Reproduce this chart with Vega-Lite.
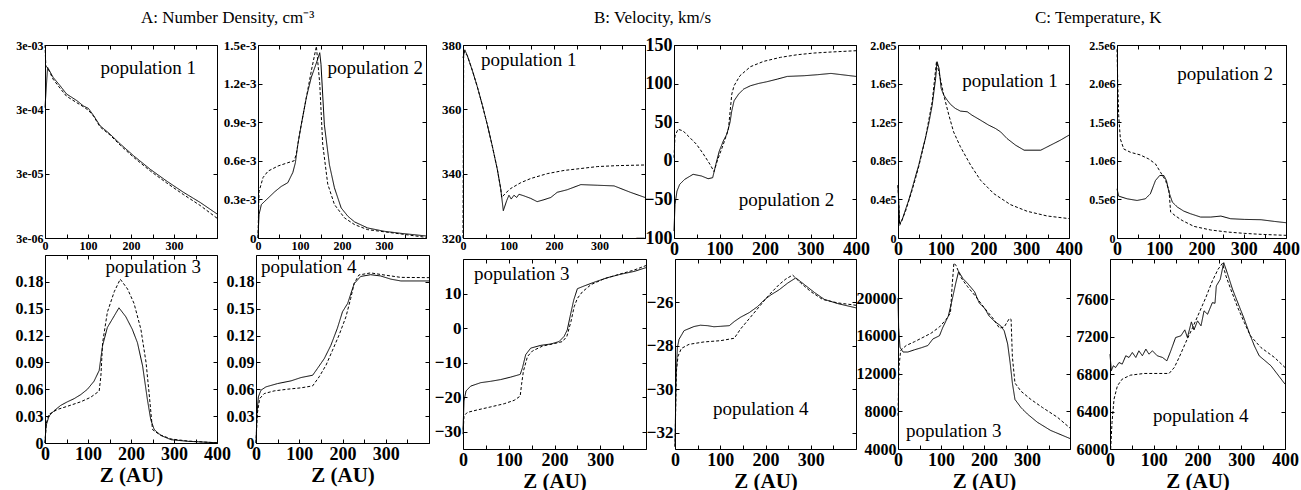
{
"$schema": "https://vega.github.io/schema/vega-lite/v6.json",
"padding": {"left": 0, "top": 8, "right": 0, "bottom": 0},
"background": "white",
"spacing": -18,
"config": {
  "view": {"stroke": "black", "strokeWidth": 1},
  "axis": {"domain": false, "grid": false, "tickColor": "black", "tickSize": -4, "tickWidth": 1, "labelPadding": 6,
           "labelFont": "Liberation Serif", "labelFontWeight": "bold", "labelColor": "black", "labelOverlap": false, "labelFlush": false, "labelBound": false,
           "titleFont": "Liberation Serif", "titleFontWeight": "bold", "titleFontSize": 21, "titleColor": "black", "titlePadding": 1},
  "title": {"font": "Liberation Serif", "fontWeight": "normal", "fontSize": 17, "color": "black", "frame": "group", "anchor": "start", "offset": 12},
  "line": {"color": "black", "strokeWidth": 1},
  "text": {"font": "Liberation Serif", "fontSize": 19, "color": "black", "baseline": "alphabetic"}
},
"datasets": {
"A1": [
{"s":"solid","z":0,"v":3.2e-4},{"s":"solid","z":6,"v":1.35e-3},{"s":"solid","z":19,"v":9.4e-4},{"s":"solid","z":35,"v":7.0e-4},{"s":"solid","z":50,"v":5.2e-4},{"s":"solid","z":74,"v":4.1e-4},{"s":"solid","z":89,"v":3.4e-4},{"s":"solid","z":101,"v":3.1e-4},{"s":"solid","z":113,"v":2.4e-4},{"s":"solid","z":128,"v":1.67e-4},{"s":"solid","z":151,"v":1.24e-4},{"s":"solid","z":175,"v":8.7e-5},{"s":"solid","z":206,"v":5.7e-5},{"s":"solid","z":245,"v":3.5e-5},{"s":"solid","z":283,"v":2.3e-5},{"s":"solid","z":322,"v":1.54e-5},{"s":"solid","z":361,"v":1.07e-5},{"s":"solid","z":400,"v":7.1e-6},
{"s":"dashed","z":0,"v":3e-3},{"s":"dashed","z":2,"v":1.4e-3},{"s":"dashed","z":6,"v":1.33e-3},{"s":"dashed","z":19,"v":8.8e-4},{"s":"dashed","z":35,"v":6.4e-4},{"s":"dashed","z":50,"v":4.8e-4},{"s":"dashed","z":74,"v":3.8e-4},{"s":"dashed","z":89,"v":3.3e-4},{"s":"dashed","z":101,"v":2.9e-4},{"s":"dashed","z":113,"v":2.35e-4},{"s":"dashed","z":128,"v":1.6e-4},{"s":"dashed","z":151,"v":1.2e-4},{"s":"dashed","z":175,"v":8.3e-5},{"s":"dashed","z":206,"v":5.4e-5},{"s":"dashed","z":245,"v":3.3e-5},{"s":"dashed","z":283,"v":2.15e-5},{"s":"dashed","z":322,"v":1.42e-5},{"s":"dashed","z":361,"v":9.6e-6},{"s":"dashed","z":400,"v":6.1e-6}
],
"A2": [
{"s":"solid","z":0,"v":0},{"s":"solid","z":2.4,"v":1.82e-4},{"s":"solid","z":8,"v":2.6e-4},{"s":"solid","z":24,"v":3.1e-4},{"s":"solid","z":40,"v":3.6e-4},{"s":"solid","z":55,"v":4.0e-4},{"s":"solid","z":71,"v":4.3e-4},{"s":"solid","z":83,"v":5.1e-4},{"s":"solid","z":89,"v":5.85e-4},{"s":"solid","z":95,"v":7.3e-4},{"s":"solid","z":103,"v":8.8e-4},{"s":"solid","z":115,"v":1.09e-3},{"s":"solid","z":127,"v":1.25e-3},{"s":"solid","z":139,"v":1.36e-3},{"s":"solid","z":147,"v":1.44e-3},{"s":"solid","z":150,"v":1.35e-3},{"s":"solid","z":158,"v":8.8e-4},{"s":"solid","z":170,"v":5.7e-4},{"s":"solid","z":182,"v":3.9e-4},{"s":"solid","z":198,"v":2.34e-4},{"s":"solid","z":214,"v":1.69e-4},{"s":"solid","z":230,"v":1.25e-4},{"s":"solid","z":261,"v":7.8e-5},{"s":"solid","z":301,"v":5.2e-5},{"s":"solid","z":341,"v":3.6e-5},{"s":"solid","z":400,"v":1.6e-5},
{"s":"dashed","z":0,"v":0},{"s":"dashed","z":2.4,"v":3.6e-4},{"s":"dashed","z":12,"v":4.7e-4},{"s":"dashed","z":24,"v":5.2e-4},{"s":"dashed","z":48,"v":5.6e-4},{"s":"dashed","z":71,"v":5.85e-4},{"s":"dashed","z":86,"v":6.0e-4},{"s":"dashed","z":91,"v":6.5e-4},{"s":"dashed","z":99,"v":8.1e-4},{"s":"dashed","z":115,"v":1.09e-3},{"s":"dashed","z":127,"v":1.3e-3},{"s":"dashed","z":139,"v":1.49e-3},{"s":"dashed","z":147,"v":1.2e-3},{"s":"dashed","z":154,"v":7.3e-4},{"s":"dashed","z":166,"v":4.2e-4},{"s":"dashed","z":182,"v":2.6e-4},{"s":"dashed","z":206,"v":1.56e-4},{"s":"dashed","z":230,"v":1.04e-4},{"s":"dashed","z":261,"v":6.5e-5},{"s":"dashed","z":341,"v":3.1e-5},{"s":"dashed","z":400,"v":5e-6}
],
"A3": [
{"s":"solid","z":0,"v":0},{"s":"solid","z":2.3,"v":0.019},{"s":"solid","z":9.3,"v":0.030},{"s":"solid","z":21,"v":0.036},{"s":"solid","z":36.5,"v":0.042},{"s":"solid","z":52,"v":0.046},{"s":"solid","z":67.6,"v":0.0495},{"s":"solid","z":83,"v":0.054},{"s":"solid","z":98.6,"v":0.060},{"s":"solid","z":114,"v":0.069},{"s":"solid","z":126,"v":0.081},{"s":"solid","z":134,"v":0.109},{"s":"solid","z":145,"v":0.129},{"s":"solid","z":161,"v":0.142},{"s":"solid","z":172,"v":0.151},{"s":"solid","z":188,"v":0.141},{"s":"solid","z":203,"v":0.127},{"s":"solid","z":215,"v":0.112},{"s":"solid","z":227,"v":0.086},{"s":"solid","z":238,"v":0.049},{"s":"solid","z":246,"v":0.026},{"s":"solid","z":254,"v":0.015},{"s":"solid","z":270,"v":0.0083},{"s":"solid","z":293,"v":0.0037},{"s":"solid","z":332,"v":0.0019},{"s":"solid","z":400,"v":0.0003},
{"s":"dashed","z":0,"v":0},{"s":"dashed","z":3,"v":0.022},{"s":"dashed","z":9,"v":0.032},{"s":"dashed","z":29,"v":0.0375},{"s":"dashed","z":52,"v":0.041},{"s":"dashed","z":83,"v":0.046},{"s":"dashed","z":106,"v":0.051},{"s":"dashed","z":126,"v":0.058},{"s":"dashed","z":130,"v":0.075},{"s":"dashed","z":134,"v":0.112},{"s":"dashed","z":145,"v":0.146},{"s":"dashed","z":161,"v":0.169},{"s":"dashed","z":175,"v":0.183},{"s":"dashed","z":192,"v":0.172},{"s":"dashed","z":207,"v":0.156},{"s":"dashed","z":223,"v":0.127},{"s":"dashed","z":235,"v":0.090},{"s":"dashed","z":242,"v":0.056},{"s":"dashed","z":250,"v":0.015},{"s":"dashed","z":266,"v":0.0094},{"s":"dashed","z":293,"v":0.0045},{"s":"dashed","z":332,"v":0.0022},{"s":"dashed","z":400,"v":0.0002}
],
"A4": [
{"s":"solid","z":0,"v":0},{"s":"solid","z":2.3,"v":0.033},{"s":"solid","z":5.4,"v":0.0515},{"s":"solid","z":11.5,"v":0.059},{"s":"solid","z":23,"v":0.0627},{"s":"solid","z":50,"v":0.0664},{"s":"solid","z":81,"v":0.0694},{"s":"solid","z":104,"v":0.0731},{"s":"solid","z":131,"v":0.0757},{"s":"solid","z":142,"v":0.0832},{"s":"solid","z":158,"v":0.0944},{"s":"solid","z":173,"v":0.109},{"s":"solid","z":188,"v":0.128},{"s":"solid","z":200,"v":0.1466},{"s":"solid","z":212,"v":0.156},{"s":"solid","z":227,"v":0.178},{"s":"solid","z":242,"v":0.186},{"s":"solid","z":265,"v":0.188},{"s":"solid","z":288,"v":0.1866},{"s":"solid","z":312,"v":0.183},{"s":"solid","z":335,"v":0.181},{"s":"solid","z":400,"v":0.181},
{"s":"dashed","z":0,"v":0},{"s":"dashed","z":3,"v":0.0328},{"s":"dashed","z":8.5,"v":0.0496},{"s":"dashed","z":19,"v":0.0552},{"s":"dashed","z":42,"v":0.0582},{"s":"dashed","z":73,"v":0.0601},{"s":"dashed","z":104,"v":0.0616},{"s":"dashed","z":131,"v":0.0638},{"s":"dashed","z":146,"v":0.0739},{"s":"dashed","z":162,"v":0.087},{"s":"dashed","z":177,"v":0.1037},{"s":"dashed","z":192,"v":0.1205},{"s":"dashed","z":208,"v":0.141},{"s":"dashed","z":219,"v":0.1616},{"s":"dashed","z":227,"v":0.1784},{"s":"dashed","z":238,"v":0.1877},{"s":"dashed","z":265,"v":0.190},{"s":"dashed","z":296,"v":0.1877},{"s":"dashed","z":335,"v":0.185},{"s":"dashed","z":400,"v":0.1847}
],
"B1": [
{"s":"solid","z":0,"v":376},{"s":"solid","z":4,"v":378.5},{"s":"solid","z":9.5,"v":376.7},{"s":"solid","z":20.5,"v":372.1},{"s":"solid","z":31.5,"v":367.0},{"s":"solid","z":42.5,"v":361.3},{"s":"solid","z":53.5,"v":355.2},{"s":"solid","z":64.5,"v":348.5},{"s":"solid","z":75.5,"v":341.3},{"s":"solid","z":83,"v":335.2},{"s":"solid","z":88.6,"v":328.5},{"s":"solid","z":96,"v":331.6},{"s":"solid","z":101,"v":333.3},{"s":"solid","z":106,"v":332.1},{"s":"solid","z":112,"v":333.3},{"s":"solid","z":118,"v":332.6},{"s":"solid","z":123,"v":333.6},{"s":"solid","z":134,"v":333.1},{"s":"solid","z":149,"v":332.3},{"s":"solid","z":163,"v":331.3},{"s":"solid","z":178,"v":331.9},{"s":"solid","z":193,"v":332.6},{"s":"solid","z":207,"v":334.2},{"s":"solid","z":229,"v":335.0},{"s":"solid","z":259,"v":336.6},{"s":"solid","z":295,"v":336.4},{"s":"solid","z":332,"v":336.2},{"s":"solid","z":368,"v":334.2},{"s":"solid","z":400,"v":332.6},
{"s":"dashed","z":0,"v":320},{"s":"dashed","z":1.5,"v":378},{"s":"dashed","z":9.5,"v":376.7},{"s":"dashed","z":20.5,"v":372.1},{"s":"dashed","z":31.5,"v":367.0},{"s":"dashed","z":42.5,"v":361.3},{"s":"dashed","z":53.5,"v":355.2},{"s":"dashed","z":64.5,"v":348.5},{"s":"dashed","z":75.5,"v":341.3},{"s":"dashed","z":83,"v":335.2},{"s":"dashed","z":85,"v":332.6},{"s":"dashed","z":94,"v":334.0},{"s":"dashed","z":105,"v":335.4},{"s":"dashed","z":127,"v":337.2},{"s":"dashed","z":149,"v":338.5},{"s":"dashed","z":185,"v":340.0},{"s":"dashed","z":222,"v":341.0},{"s":"dashed","z":259,"v":341.6},{"s":"dashed","z":295,"v":342.2},{"s":"dashed","z":339,"v":342.5},{"s":"dashed","z":400,"v":342.7}
],
"B2": [
{"s":"solid","z":0,"v":-91},{"s":"solid","z":2.2,"v":-56.5},{"s":"solid","z":6.6,"v":-39.2},{"s":"solid","z":12.5,"v":-30.5},{"s":"solid","z":23.6,"v":-24},{"s":"solid","z":42,"v":-17.5},{"s":"solid","z":60.5,"v":-19.7},{"s":"solid","z":75,"v":-23.2},{"s":"solid","z":85,"v":-21.9},{"s":"solid","z":92,"v":-4.5},{"s":"solid","z":99.6,"v":12.8},{"s":"solid","z":108.5,"v":25.8},{"s":"solid","z":116,"v":34.4},{"s":"solid","z":123,"v":49.6},{"s":"solid","z":127,"v":64.7},{"s":"solid","z":132,"v":77.7},{"s":"solid","z":142,"v":86.4},{"s":"solid","z":153,"v":92.9},{"s":"solid","z":168,"v":97.2},{"s":"solid","z":186,"v":100.2},{"s":"solid","z":204,"v":102.4},{"s":"solid","z":227,"v":105.8},{"s":"solid","z":249,"v":109.3},{"s":"solid","z":286,"v":110.2},{"s":"solid","z":315,"v":111.5},{"s":"solid","z":345,"v":113.2},{"s":"solid","z":400,"v":109.3},
{"s":"dashed","z":0,"v":4},{"s":"dashed","z":2.2,"v":32.2},{"s":"dashed","z":8.9,"v":40.9},{"s":"dashed","z":20,"v":38.7},{"s":"dashed","z":34.7,"v":30.1},{"s":"dashed","z":49.4,"v":21.4},{"s":"dashed","z":64,"v":9.3},{"s":"dashed","z":79,"v":-4.5},{"s":"dashed","z":88,"v":-14},{"s":"dashed","z":95,"v":-0.2},{"s":"dashed","z":108.5,"v":21.4},{"s":"dashed","z":119.6,"v":40.9},{"s":"dashed","z":127,"v":86.4},{"s":"dashed","z":132,"v":97.2},{"s":"dashed","z":145,"v":110.2},{"s":"dashed","z":168,"v":121.9},{"s":"dashed","z":197,"v":128.8},{"s":"dashed","z":234,"v":134.0},{"s":"dashed","z":271,"v":137.4},{"s":"dashed","z":308,"v":139.6},{"s":"dashed","z":345,"v":140.9},{"s":"dashed","z":400,"v":142.6}
],
"B3": [
{"s":"solid","z":0,"v":-29.7},{"s":"solid","z":2.2,"v":-21.1},{"s":"solid","z":6.6,"v":-18.2},{"s":"solid","z":16.8,"v":-16.8},{"s":"solid","z":38.7,"v":-15.8},{"s":"solid","z":60.6,"v":-15.4},{"s":"solid","z":82.5,"v":-14.9},{"s":"solid","z":104,"v":-14.2},{"s":"solid","z":125,"v":-13.4},{"s":"solid","z":130,"v":-11.5},{"s":"solid","z":137,"v":-7.7},{"s":"solid","z":148,"v":-5.8},{"s":"solid","z":170,"v":-5.0},{"s":"solid","z":192,"v":-4.6},{"s":"solid","z":210,"v":-3.9},{"s":"solid","z":221,"v":-2.4},{"s":"solid","z":228,"v":-0.5},{"s":"solid","z":234,"v":3.3},{"s":"solid","z":242,"v":8.1},{"s":"solid","z":250,"v":11.4},{"s":"solid","z":265,"v":12.2},{"s":"solid","z":287,"v":13.3},{"s":"solid","z":316,"v":14.6},{"s":"solid","z":345,"v":15.6},{"s":"solid","z":374,"v":16.4},{"s":"solid","z":400,"v":17.5},
{"s":"dashed","z":0,"v":-30.7},{"s":"dashed","z":2.2,"v":-25.4},{"s":"dashed","z":9.5,"v":-24.4},{"s":"dashed","z":31,"v":-23.7},{"s":"dashed","z":61,"v":-22.8},{"s":"dashed","z":90,"v":-21.9},{"s":"dashed","z":112,"v":-20.9},{"s":"dashed","z":125,"v":-19.7},{"s":"dashed","z":128,"v":-16.3},{"s":"dashed","z":132,"v":-12.5},{"s":"dashed","z":141,"v":-8.2},{"s":"dashed","z":152,"v":-6.6},{"s":"dashed","z":174,"v":-5.2},{"s":"dashed","z":199,"v":-4.5},{"s":"dashed","z":217.5,"v":-3.9},{"s":"dashed","z":227,"v":-2.4},{"s":"dashed","z":236,"v":1.9},{"s":"dashed","z":243,"v":6.2},{"s":"dashed","z":250,"v":8.6},{"s":"dashed","z":261,"v":10.5},{"s":"dashed","z":280,"v":12.6},{"s":"dashed","z":309,"v":14.3},{"s":"dashed","z":345,"v":15.7},{"s":"dashed","z":374,"v":16.8},{"s":"dashed","z":400,"v":18.1}
],
"B4": [
{"s":"solid","z":0,"v":-32.64},{"s":"solid","z":2.2,"v":-29.66},{"s":"solid","z":5.2,"v":-28.09},{"s":"solid","z":8.9,"v":-27.70},{"s":"solid","z":20,"v":-27.30},{"s":"solid","z":42,"v":-27.11},{"s":"solid","z":56,"v":-27.05},{"s":"solid","z":71.6,"v":-27.07},{"s":"solid","z":86,"v":-27.12},{"s":"solid","z":101,"v":-27.10},{"s":"solid","z":120,"v":-27.07},{"s":"solid","z":131,"v":-26.88},{"s":"solid","z":145,"v":-26.68},{"s":"solid","z":164,"v":-26.47},{"s":"solid","z":182,"v":-26.20},{"s":"solid","z":197,"v":-25.89},{"s":"solid","z":212,"v":-25.65},{"s":"solid","z":230,"v":-25.42},{"s":"solid","z":249,"v":-25.11},{"s":"solid","z":267,"v":-24.87},{"s":"solid","z":286,"v":-25.18},{"s":"solid","z":308,"v":-25.54},{"s":"solid","z":330,"v":-25.86},{"s":"solid","z":359,"v":-26.05},{"s":"solid","z":400,"v":-26.25},
{"s":"dashed","z":0,"v":-32.64},{"s":"dashed","z":3,"v":-29.19},{"s":"dashed","z":6.6,"v":-28.48},{"s":"dashed","z":14,"v":-28.12},{"s":"dashed","z":31,"v":-27.93},{"s":"dashed","z":64,"v":-27.82},{"s":"dashed","z":101,"v":-27.76},{"s":"dashed","z":131,"v":-27.65},{"s":"dashed","z":145,"v":-27.22},{"s":"dashed","z":164,"v":-26.75},{"s":"dashed","z":186,"v":-26.20},{"s":"dashed","z":208,"v":-25.65},{"s":"dashed","z":230,"v":-25.18},{"s":"dashed","z":245,"v":-24.92},{"s":"dashed","z":260,"v":-24.74},{"s":"dashed","z":278,"v":-25.11},{"s":"dashed","z":300,"v":-25.50},{"s":"dashed","z":326,"v":-25.86},{"s":"dashed","z":359,"v":-26.02},{"s":"dashed","z":400,"v":-26.13}
],
"C1": [
{"s":"solid","z":0,"v":54700},{"s":"solid","z":3.9,"v":14900},{"s":"solid","z":9.4,"v":18300},{"s":"solid","z":17,"v":28700},{"s":"solid","z":25,"v":39100},{"s":"solid","z":33,"v":51200},{"s":"solid","z":40.6,"v":63300},{"s":"solid","z":48.4,"v":75400},{"s":"solid","z":56,"v":89300},{"s":"solid","z":64,"v":103100},{"s":"solid","z":72,"v":118700},{"s":"solid","z":80,"v":137700},{"s":"solid","z":88,"v":165400},{"s":"solid","z":91.4,"v":182700},{"s":"solid","z":96,"v":175800},{"s":"solid","z":101,"v":155000},{"s":"solid","z":107,"v":148100},{"s":"solid","z":115,"v":142900},{"s":"solid","z":123,"v":138400},{"s":"solid","z":134,"v":134300},{"s":"solid","z":146,"v":131500},{"s":"solid","z":162,"v":130800},{"s":"solid","z":173,"v":127300},{"s":"solid","z":193,"v":122100},{"s":"solid","z":212,"v":117000},{"s":"solid","z":228,"v":113500},{"s":"solid","z":240,"v":110000},{"s":"solid","z":255,"v":103100},{"s":"solid","z":275,"v":96200},{"s":"solid","z":295,"v":91000},{"s":"solid","z":334,"v":91000},{"s":"solid","z":357,"v":96200},{"s":"solid","z":380,"v":101400},{"s":"solid","z":400,"v":106600},
{"s":"dashed","z":0,"v":54700},{"s":"dashed","z":3.9,"v":13100},{"s":"dashed","z":17,"v":27000},{"s":"dashed","z":33,"v":49500},{"s":"dashed","z":48.4,"v":73700},{"s":"dashed","z":64,"v":103100},{"s":"dashed","z":80,"v":141200},{"s":"dashed","z":90,"v":182700},{"s":"dashed","z":99,"v":165400},{"s":"dashed","z":107,"v":148100},{"s":"dashed","z":119,"v":127300},{"s":"dashed","z":130,"v":110000},{"s":"dashed","z":146,"v":94500},{"s":"dashed","z":170,"v":75400},{"s":"dashed","z":193,"v":59900},{"s":"dashed","z":224,"v":46000},{"s":"dashed","z":263,"v":34600},{"s":"dashed","z":302,"v":27700},{"s":"dashed","z":349,"v":22800},{"s":"dashed","z":400,"v":20100}
],
"C2": [
{"s":"solid","z":0,"v":636900},{"s":"solid","z":4,"v":542200},{"s":"solid","z":24,"v":507700},{"s":"solid","z":47.5,"v":486200},{"s":"solid","z":67,"v":507700},{"s":"solid","z":79,"v":572300},{"s":"solid","z":91,"v":744400},{"s":"solid","z":101,"v":809000},{"s":"solid","z":111,"v":809000},{"s":"solid","z":117,"v":744400},{"s":"solid","z":123,"v":593800},{"s":"solid","z":131,"v":464700},{"s":"solid","z":143,"v":400200},{"s":"solid","z":158,"v":348500},{"s":"solid","z":174,"v":314100},{"s":"solid","z":198,"v":271100},{"s":"solid","z":222,"v":271100},{"s":"solid","z":246,"v":284000},{"s":"solid","z":269,"v":249600},{"s":"solid","z":301,"v":241000},{"s":"solid","z":341,"v":236700},{"s":"solid","z":372,"v":215200},{"s":"solid","z":400,"v":197900},
{"s":"dashed","z":0,"v":2444000},{"s":"dashed","z":1.6,"v":2057000},{"s":"dashed","z":4,"v":1583000},{"s":"dashed","z":8,"v":1282000},{"s":"dashed","z":16,"v":1153000},{"s":"dashed","z":32,"v":1110000},{"s":"dashed","z":55,"v":1076000},{"s":"dashed","z":75,"v":1024000},{"s":"dashed","z":91,"v":960000},{"s":"dashed","z":103,"v":852000},{"s":"dashed","z":115,"v":744400},{"s":"dashed","z":123,"v":615400},{"s":"dashed","z":127,"v":335700},{"s":"dashed","z":139,"v":284000},{"s":"dashed","z":154,"v":228000},{"s":"dashed","z":182,"v":150600},{"s":"dashed","z":222,"v":103300},{"s":"dashed","z":261,"v":77500},{"s":"dashed","z":301,"v":60200},{"s":"dashed","z":341,"v":47300},{"s":"dashed","z":400,"v":34400}
],
"C3": [
{"s":"solid","z":0,"v":20000},{"s":"solid","z":1.5,"v":16880},{"s":"solid","z":4.6,"v":14800},{"s":"solid","z":11.6,"v":14290},{"s":"solid","z":23,"v":14290},{"s":"solid","z":38.6,"v":14530},{"s":"solid","z":54,"v":14740},{"s":"solid","z":69.5,"v":14980},{"s":"solid","z":81,"v":15670},{"s":"solid","z":96.5,"v":16020},{"s":"solid","z":104,"v":16880},{"s":"solid","z":117,"v":18100},{"s":"solid","z":125,"v":19650},{"s":"solid","z":135,"v":21730},{"s":"solid","z":141,"v":22840},{"s":"solid","z":151,"v":22080},{"s":"solid","z":162,"v":21560},{"s":"solid","z":178,"v":20690},{"s":"solid","z":189,"v":19480},{"s":"solid","z":201,"v":18960},{"s":"solid","z":212,"v":18100},{"s":"solid","z":224,"v":17570},{"s":"solid","z":239,"v":17060},{"s":"solid","z":247,"v":16540},{"s":"solid","z":255,"v":15150},{"s":"solid","z":261,"v":13070},{"s":"solid","z":266,"v":10990},{"s":"solid","z":272,"v":9260},{"s":"solid","z":286,"v":8400},{"s":"solid","z":301,"v":7710},{"s":"solid","z":324,"v":6840},{"s":"solid","z":355,"v":5970},{"s":"solid","z":400,"v":5110},
{"s":"dashed","z":0,"v":7530},{"s":"dashed","z":2.3,"v":12730},{"s":"dashed","z":6.2,"v":14460},{"s":"dashed","z":19,"v":14980},{"s":"dashed","z":38.6,"v":15390},{"s":"dashed","z":58,"v":15840},{"s":"dashed","z":77,"v":16290},{"s":"dashed","z":96.5,"v":16950},{"s":"dashed","z":112,"v":17750},{"s":"dashed","z":122,"v":18440},{"s":"dashed","z":126,"v":21390},{"s":"dashed","z":130,"v":23740},{"s":"dashed","z":135,"v":23460},{"s":"dashed","z":147,"v":22150},{"s":"dashed","z":162,"v":21210},{"s":"dashed","z":181,"v":20170},{"s":"dashed","z":201,"v":18960},{"s":"dashed","z":220,"v":17920},{"s":"dashed","z":236,"v":16820},{"s":"dashed","z":247,"v":16950},{"s":"dashed","z":259,"v":17850},{"s":"dashed","z":263,"v":17750},{"s":"dashed","z":266,"v":13770},{"s":"dashed","z":272,"v":11000},{"s":"dashed","z":286,"v":10130},{"s":"dashed","z":309,"v":9260},{"s":"dashed","z":336,"v":8400},{"s":"dashed","z":371,"v":7360},{"s":"dashed","z":400,"v":6220}
],
"C4": [
{"s":"solid","z":0,"v":7013},{"s":"solid","z":3,"v":6836},{"s":"solid","z":7.6,"v":6889},{"s":"solid","z":13,"v":6871},{"s":"solid","z":20.6,"v":6924},{"s":"solid","z":28,"v":6907},{"s":"solid","z":36,"v":6996},{"s":"solid","z":43.5,"v":6978},{"s":"solid","z":51,"v":7031},{"s":"solid","z":59,"v":6978},{"s":"solid","z":66,"v":7049},{"s":"solid","z":74,"v":6996},{"s":"solid","z":82,"v":7067},{"s":"solid","z":89,"v":7013},{"s":"solid","z":97,"v":7049},{"s":"solid","z":108,"v":6996},{"s":"solid","z":120,"v":6978},{"s":"solid","z":130,"v":6942},{"s":"solid","z":139,"v":7049},{"s":"solid","z":150,"v":7191},{"s":"solid","z":162,"v":7209},{"s":"solid","z":171,"v":7273},{"s":"solid","z":177,"v":7191},{"s":"solid","z":186,"v":7358},{"s":"solid","z":192,"v":7273},{"s":"solid","z":200,"v":7369},{"s":"solid","z":208,"v":7316},{"s":"solid","z":215,"v":7476},{"s":"solid","z":223,"v":7440},{"s":"solid","z":234,"v":7564},{"s":"solid","z":240,"v":7557},{"s":"solid","z":243,"v":7742},{"s":"solid","z":252,"v":7813},{"s":"solid","z":260,"v":7991},{"s":"solid","z":269,"v":7867},{"s":"solid","z":280,"v":7707},{"s":"solid","z":295,"v":7529},{"s":"solid","z":307,"v":7387},{"s":"solid","z":318,"v":7244},{"s":"solid","z":330,"v":7102},{"s":"solid","z":341,"v":6996},{"s":"solid","z":368,"v":6889},{"s":"solid","z":400,"v":6693},
{"s":"dashed","z":1.5,"v":6000},{"s":"dashed","z":4.6,"v":6284},{"s":"dashed","z":9.2,"v":6533},{"s":"dashed","z":17,"v":6676},{"s":"dashed","z":28,"v":6747},{"s":"dashed","z":47,"v":6789},{"s":"dashed","z":78,"v":6807},{"s":"dashed","z":108,"v":6807},{"s":"dashed","z":135,"v":6807},{"s":"dashed","z":147,"v":6871},{"s":"dashed","z":158,"v":6978},{"s":"dashed","z":173,"v":7138},{"s":"dashed","z":189,"v":7298},{"s":"dashed","z":204,"v":7458},{"s":"dashed","z":219,"v":7618},{"s":"dashed","z":234,"v":7796},{"s":"dashed","z":247,"v":7920},{"s":"dashed","z":257,"v":7984},{"s":"dashed","z":265,"v":7849},{"s":"dashed","z":276,"v":7707},{"s":"dashed","z":292,"v":7511},{"s":"dashed","z":307,"v":7351},{"s":"dashed","z":321,"v":7209},{"s":"dashed","z":345,"v":7084},{"s":"dashed","z":376,"v":6978},{"s":"dashed","z":400,"v":6871}
]
},
"hconcat": [
{
 "title": {"text": "A: Number Density, cm⁻³", "dx": 96, "offset": 12},
 "spacing": 2,
 "vconcat": [
  {"bounds": "flush", "spacing": 41, "hconcat": [
   {"width": 172, "height": 193, "data": {"name": "A1"}, "resolve": {"axis": {"x": "independent", "y": "independent"}}, "layer": [
    {"mark": "line", "encoding": {
     "x": {"field": "z", "type": "quantitative", "scale": {"domain": [0, 400], "nice": false}, "axis": {"values": [0, 50, 100, 150, 200, 250, 300, 350, 400], "tickCount": 20, "labelExpr": "datum.value % 100 == 0 && datum.value < 400 ? datum.label : ''", "labelFontSize": 12, "labelOverlap": false, "title": null}},
     "y": {"field": "v", "type": "quantitative", "scale": {"type": "log", "domain": [3e-6, 3e-3], "nice": false}, "axis": {"values": [3e-6, 3e-5, 3e-4, 3e-3], "tickCount": 20, "labelExpr": "replace(format(datum.value, '.0e'), 'e-', 'e-0')", "labelFontSize": 12, "labelOverlap": false, "minExtent": 44, "title": null}},
     "strokeDash": {"field": "s", "type": "nominal", "scale": {"domain": ["solid", "dashed"], "range": [[1, 0], [3, 2]]}, "legend": null}}},
    {"data": {"values": [{}]}, "mark": {"type": "text", "align": "right"}, "encoding": {
     "x": {"datum": 351, "axis": {"orient": "top", "values": [0, 50, 100, 150, 200, 250, 300, 350, 400], "tickCount": 20, "labels": false, "title": null}},
     "y": {"datum": 0.00106, "axis": {"orient": "right", "values": [3e-6, 3e-5, 3e-4, 3e-3], "tickCount": 20, "labels": false, "title": null}},
     "text": {"value": "population 1"}}}
   ]},
   {"width": 168, "height": 193, "data": {"name": "A2"}, "resolve": {"axis": {"x": "independent", "y": "independent"}}, "layer": [
    {"mark": "line", "encoding": {
     "x": {"field": "z", "type": "quantitative", "scale": {"domain": [0, 400], "nice": false}, "axis": {"values": [0, 50, 100, 150, 200, 250, 300, 350, 400], "tickCount": 20, "labelExpr": "datum.value % 100 == 0 && datum.value < 400 ? datum.label : ''", "labelFontSize": 12, "labelOverlap": false, "title": null}},
     "y": {"field": "v", "type": "quantitative", "scale": {"domain": [0, 0.0015], "nice": false}, "axis": {"values": [0, 0.0003, 0.0006, 0.0009, 0.0012, 0.0015], "tickCount": 20, "labelExpr": "datum.value == 0 ? '0' : format(datum.value * 1000, '.1f') + 'e-3'", "labelFontSize": 13, "labelOverlap": false, "title": null}},
     "strokeDash": {"field": "s", "type": "nominal", "scale": {"domain": ["solid", "dashed"], "range": [[1, 0], [3, 2]]}, "legend": null}}},
    {"data": {"values": [{}]}, "mark": {"type": "text", "align": "right"}, "encoding": {
     "x": {"datum": 393, "axis": {"orient": "top", "values": [0, 50, 100, 150, 200, 250, 300, 350, 400], "tickCount": 20, "labels": false, "title": null}},
     "y": {"datum": 0.001275, "axis": {"orient": "right", "values": [0, 0.0003, 0.0006, 0.0009, 0.0012, 0.0015], "tickCount": 20, "labels": false, "title": null}},
     "text": {"value": "population 2"}}}
   ]}
  ]},
  {"bounds": "flush", "spacing": 39, "hconcat": [
   {"width": 172, "height": 188, "data": {"name": "A3"}, "resolve": {"axis": {"x": "independent", "y": "independent"}}, "layer": [
    {"mark": "line", "encoding": {
     "x": {"field": "z", "type": "quantitative", "scale": {"domain": [0, 400], "nice": false}, "axis": {"values": [0, 50, 100, 150, 200, 250, 300, 350, 400], "tickCount": 20, "labelExpr": "datum.value % 100 == 0 ? datum.label : ''", "labelFontSize": 18, "labelOverlap": false, "title": "Z (AU)"}},
     "y": {"field": "v", "type": "quantitative", "scale": {"domain": [0, 0.21], "nice": false}, "axis": {"values": [0, 0.03, 0.06, 0.09, 0.12, 0.15, 0.18], "tickCount": 20, "labelExpr": "datum.value == 0 ? '0' : format(datum.value, '.2f')", "labelFontSize": 16, "labelOverlap": false, "minExtent": 44, "title": null}},
     "strokeDash": {"field": "s", "type": "nominal", "scale": {"domain": ["solid", "dashed"], "range": [[1, 0], [3, 2]]}, "legend": null}}},
    {"data": {"values": [{}]}, "mark": {"type": "text", "align": "right"}, "encoding": {
     "x": {"datum": 363, "axis": {"orient": "top", "values": [0, 50, 100, 150, 200, 250, 300, 350, 400], "tickCount": 20, "labels": false, "title": null}},
     "y": {"datum": 0.19, "axis": {"orient": "right", "values": [0, 0.03, 0.06, 0.09, 0.12, 0.15, 0.18], "tickCount": 20, "labels": false, "title": null}},
     "text": {"value": "population 3"}}}
   ]},
   {"width": 173, "height": 188, "data": {"name": "A4"}, "resolve": {"axis": {"x": "independent", "y": "independent"}}, "layer": [
    {"mark": "line", "encoding": {
     "x": {"field": "z", "type": "quantitative", "scale": {"domain": [0, 400], "nice": false}, "axis": {"values": [0, 50, 100, 150, 200, 250, 300, 350, 400], "tickCount": 20, "labelExpr": "datum.value % 100 == 0 && datum.value < 400 ? datum.label : ''", "labelFontSize": 18, "labelOverlap": false, "title": "Z (AU)"}},
     "y": {"field": "v", "type": "quantitative", "scale": {"domain": [0, 0.21], "nice": false}, "axis": {"values": [0, 0.03, 0.06, 0.09, 0.12, 0.15, 0.18], "tickCount": 20, "labelExpr": "datum.value == 0 ? '0' : format(datum.value, '.2f')", "labelFontSize": 16, "labelOverlap": false, "title": null}},
     "strokeDash": {"field": "s", "type": "nominal", "scale": {"domain": ["solid", "dashed"], "range": [[1, 0], [7, 4]]}, "legend": null}}},
    {"data": {"values": [{}]}, "mark": {"type": "text", "align": "left"}, "encoding": {
     "x": {"datum": 11.6, "axis": {"orient": "top", "values": [0, 50, 100, 150, 200, 250, 300, 350, 400], "tickCount": 20, "labels": false, "title": null}},
     "y": {"datum": 0.19, "axis": {"orient": "right", "values": [0, 0.03, 0.06, 0.09, 0.12, 0.15, 0.18], "tickCount": 20, "labels": false, "title": null}},
     "text": {"value": "population 4"}}}
   ]}
  ]}
 ]
},
{
 "title": {"text": "B: Velocity, km/s", "dx": 131, "offset": 9},
 "spacing": -7,
 "vconcat": [
  {"bounds": "flush", "spacing": 29, "hconcat": [
   {"width": 182, "height": 193, "data": {"name": "B1"}, "resolve": {"axis": {"x": "independent", "y": "independent"}}, "layer": [
    {"mark": "line", "encoding": {
     "x": {"field": "z", "type": "quantitative", "scale": {"domain": [0, 400], "nice": false}, "axis": {"values": [0, 50, 100, 150, 200, 250, 300, 350, 400], "tickCount": 20, "labelExpr": "datum.value % 100 == 0 && datum.value < 400 ? datum.label : ''", "labelFontSize": 12, "labelOverlap": false, "title": null}},
     "y": {"field": "v", "type": "quantitative", "scale": {"domain": [320, 380], "nice": false}, "axis": {"values": [320, 340, 360, 380], "tickCount": 20, "format": "d", "labelFontSize": 13, "labelOverlap": false, "minExtent": 48, "title": null}},
     "strokeDash": {"field": "s", "type": "nominal", "scale": {"domain": ["solid", "dashed"], "range": [[1, 0], [3, 2]]}, "legend": null}}},
    {"data": {"values": [{}]}, "mark": {"type": "text", "align": "left"}, "encoding": {
     "x": {"datum": 39.6, "axis": {"orient": "top", "values": [0, 50, 100, 150, 200, 250, 300, 350, 400], "tickCount": 20, "labels": false, "title": null}},
     "y": {"datum": 373.5, "axis": {"orient": "right", "values": [320, 340, 360, 380], "tickCount": 20, "labels": false, "title": null}},
     "text": {"value": "population 1"}}}
   ]},
   {"width": 182, "height": 193, "data": {"name": "B2"}, "resolve": {"axis": {"x": "independent", "y": "independent"}}, "layer": [
    {"mark": "line", "encoding": {
     "x": {"field": "z", "type": "quantitative", "scale": {"domain": [0, 400], "nice": false}, "axis": {"values": [0, 50, 100, 150, 200, 250, 300, 350, 400], "tickCount": 20, "labelExpr": "datum.value % 100 == 0 ? datum.label : ''", "labelFontSize": 18, "labelOverlap": false, "title": null}},
     "y": {"field": "v", "type": "quantitative", "scale": {"domain": [-100, 150], "nice": false}, "axis": {"values": [-100, -50, 0, 50, 100, 150], "tickCount": 20, "format": "d", "labelFontSize": 18, "labelOverlap": false, "title": null}},
     "strokeDash": {"field": "s", "type": "nominal", "scale": {"domain": ["solid", "dashed"], "range": [[1, 0], [3, 2]]}, "legend": null}}},
    {"data": {"values": [{}]}, "mark": {"type": "text", "align": "right"}, "encoding": {
     "x": {"datum": 352, "axis": {"orient": "top", "values": [0, 50, 100, 150, 200, 250, 300, 350, 400], "tickCount": 20, "labels": false, "title": null}},
     "y": {"datum": -58.5, "axis": {"orient": "right", "values": [-100, -50, 0, 50, 100, 150], "tickCount": 20, "labels": false, "title": null}},
     "text": {"value": "population 2"}}}
   ]}
  ]},
  {"bounds": "flush", "spacing": 29, "hconcat": [
   {"width": 183, "height": 190, "data": {"name": "B3"}, "resolve": {"axis": {"x": "independent", "y": "independent"}}, "layer": [
    {"mark": "line", "encoding": {
     "x": {"field": "z", "type": "quantitative", "scale": {"domain": [0, 400], "nice": false}, "axis": {"values": [0, 50, 100, 150, 200, 250, 300, 350, 400], "tickCount": 20, "labelExpr": "datum.value % 100 == 0 && datum.value < 400 ? datum.label : ''", "labelFontSize": 18, "labelOverlap": false, "title": "Z (AU)"}},
     "y": {"field": "v", "type": "quantitative", "scale": {"domain": [-35, 20], "nice": false}, "axis": {"values": [-30, -20, -10, 0, 10], "tickCount": 20, "format": "d", "labelFontSize": 17, "labelOverlap": false, "minExtent": 48, "title": null}},
     "strokeDash": {"field": "s", "type": "nominal", "scale": {"domain": ["solid", "dashed"], "range": [[1, 0], [3, 2]]}, "legend": null}}},
    {"data": {"values": [{}]}, "mark": {"type": "text", "align": "left"}, "encoding": {
     "x": {"datum": 24, "axis": {"orient": "top", "values": [0, 50, 100, 150, 200, 250, 300, 350, 400], "tickCount": 20, "labels": false, "title": null}},
     "y": {"datum": 13.9, "axis": {"orient": "right", "values": [-30, -20, -10, 0, 10], "tickCount": 20, "labels": false, "title": null}},
     "text": {"value": "population 3"}}}
   ]},
   {"width": 181, "height": 190, "data": {"name": "B4"}, "resolve": {"axis": {"x": "independent", "y": "independent"}}, "layer": [
    {"mark": "line", "encoding": {
     "x": {"field": "z", "type": "quantitative", "scale": {"domain": [0, 400], "nice": false}, "axis": {"values": [0, 50, 100, 150, 200, 250, 300, 350, 400], "tickCount": 20, "labelExpr": "datum.value % 100 == 0 && datum.value < 400 ? datum.label : ''", "labelFontSize": 18, "labelOverlap": false, "title": "Z (AU)"}},
     "y": {"field": "v", "type": "quantitative", "scale": {"domain": [-32.75, -24], "nice": false}, "axis": {"values": [-32, -30, -28, -26], "tickCount": 20, "format": "d", "labelFontSize": 17, "labelOverlap": false, "title": null}},
     "strokeDash": {"field": "s", "type": "nominal", "scale": {"domain": ["solid", "dashed"], "range": [[1, 0], [3, 2]]}, "legend": null}}},
    {"data": {"values": [{}]}, "mark": {"type": "text", "align": "left"}, "encoding": {
     "x": {"datum": 84, "axis": {"orient": "top", "values": [0, 50, 100, 150, 200, 250, 300, 350, 400], "tickCount": 20, "labels": false, "title": null}},
     "y": {"datum": -31.2, "axis": {"orient": "right", "values": [-32, -30, -28, -26], "tickCount": 20, "labels": false, "title": null}},
     "text": {"value": "population 4"}}}
   ]}
  ]}
 ]
},
{
 "title": {"text": "C: Temperature, K", "dx": 137, "offset": 12},
 "spacing": -7,
 "vconcat": [
  {"bounds": "flush", "spacing": 48, "hconcat": [
   {"width": 171, "height": 193, "data": {"name": "C1"}, "resolve": {"axis": {"x": "independent", "y": "independent"}}, "layer": [
    {"mark": "line", "encoding": {
     "x": {"field": "z", "type": "quantitative", "scale": {"domain": [0, 400], "nice": false}, "axis": {"values": [0, 50, 100, 150, 200, 250, 300, 350, 400], "tickCount": 20, "labelExpr": "datum.value % 100 == 0 ? datum.label : ''", "labelFontSize": 18, "labelOverlap": false, "title": null}},
     "y": {"field": "v", "type": "quantitative", "scale": {"domain": [0, 200000], "nice": false}, "axis": {"values": [0, 40000, 80000, 120000, 160000, 200000], "tickCount": 20, "labelExpr": "datum.value == 0 ? '0' : format(datum.value / 100000, '.1f') + 'e5'", "labelFontSize": 12, "labelOverlap": false, "minExtent": 45, "title": null}},
     "strokeDash": {"field": "s", "type": "nominal", "scale": {"domain": ["solid", "dashed"], "range": [[1, 0], [8, 5]]}, "legend": null}}},
    {"data": {"values": [{}]}, "mark": {"type": "text", "align": "right"}, "encoding": {
     "x": {"datum": 374, "axis": {"orient": "top", "values": [0, 50, 100, 150, 200, 250, 300, 350, 400], "tickCount": 20, "labels": false, "title": null}},
     "y": {"datum": 156500, "axis": {"orient": "right", "values": [0, 40000, 80000, 120000, 160000, 200000], "tickCount": 20, "labels": false, "title": null}},
     "text": {"value": "population 1"}}}
   ]},
   {"width": 169, "height": 193, "data": {"name": "C2"}, "resolve": {"axis": {"x": "independent", "y": "independent"}}, "layer": [
    {"mark": "line", "encoding": {
     "x": {"field": "z", "type": "quantitative", "scale": {"domain": [0, 400], "nice": false}, "axis": {"values": [0, 50, 100, 150, 200, 250, 300, 350, 400], "tickCount": 20, "labelExpr": "datum.value % 100 == 0 ? datum.label : ''", "labelFontSize": 18, "labelOverlap": false, "title": null}},
     "y": {"field": "v", "type": "quantitative", "scale": {"domain": [0, 2500000], "nice": false}, "axis": {"values": [0, 500000, 1000000, 1500000, 2000000, 2500000], "tickCount": 20, "labelExpr": "datum.value == 0 ? '0' : format(datum.value / 1000000, '.1f') + 'e6'", "labelFontSize": 12, "labelOverlap": false, "title": null}},
     "strokeDash": {"field": "s", "type": "nominal", "scale": {"domain": ["solid", "dashed"], "range": [[1, 0], [3, 2]]}, "legend": null}}},
    {"data": {"values": [{}]}, "mark": {"type": "text", "align": "right"}, "encoding": {
     "x": {"datum": 369, "axis": {"orient": "top", "values": [0, 50, 100, 150, 200, 250, 300, 350, 400], "tickCount": 20, "labels": false, "title": null}},
     "y": {"datum": 2047000, "axis": {"orient": "right", "values": [0, 500000, 1000000, 1500000, 2000000, 2500000], "tickCount": 20, "labels": false, "title": null}},
     "text": {"value": "population 2"}}}
   ]}
  ]},
  {"bounds": "flush", "spacing": 40, "hconcat": [
   {"width": 172, "height": 190, "data": {"name": "C3"}, "resolve": {"axis": {"x": "independent", "y": "independent"}}, "layer": [
    {"mark": "line", "encoding": {
     "x": {"field": "z", "type": "quantitative", "scale": {"domain": [0, 400], "nice": false}, "axis": {"values": [0, 50, 100, 150, 200, 250, 300, 350, 400], "tickCount": 20, "labelExpr": "datum.value % 100 == 0 && datum.value < 400 ? datum.label : ''", "labelFontSize": 18, "labelOverlap": false, "title": "Z (AU)"}},
     "y": {"field": "v", "type": "quantitative", "scale": {"domain": [4000, 24160], "nice": false}, "axis": {"values": [4000, 8000, 12000, 16000, 20000], "tickCount": 20, "format": "d", "labelFontSize": 16, "labelOverlap": false, "minExtent": 45, "title": null}},
     "strokeDash": {"field": "s", "type": "nominal", "scale": {"domain": ["solid", "dashed"], "range": [[1, 0], [7, 4]]}, "legend": null}}},
    {"data": {"values": [{}]}, "mark": {"type": "text", "align": "left"}, "encoding": {
     "x": {"datum": 18.6, "axis": {"orient": "top", "values": [0, 50, 100, 150, 200, 250, 300, 350, 400], "tickCount": 20, "labels": false, "title": null}},
     "y": {"datum": 5320, "axis": {"orient": "right", "values": [4000, 8000, 12000, 16000, 20000], "tickCount": 20, "labels": false, "title": null}},
     "text": {"value": "population 3"}}}
   ]},
   {"width": 175, "height": 190, "data": {"name": "C4"}, "resolve": {"axis": {"x": "independent", "y": "independent"}}, "layer": [
    {"mark": "line", "encoding": {
     "x": {"field": "z", "type": "quantitative", "scale": {"domain": [0, 400], "nice": false}, "axis": {"values": [0, 50, 100, 150, 200, 250, 300, 350, 400], "tickCount": 20, "labelExpr": "datum.value % 100 == 0 ? datum.label : ''", "labelFontSize": 18, "labelOverlap": false, "title": "Z (AU)"}},
     "y": {"field": "v", "type": "quantitative", "scale": {"domain": [6000, 8030], "nice": false}, "axis": {"values": [6000, 6400, 6800, 7200, 7600], "tickCount": 20, "format": "d", "labelFontSize": 16, "labelOverlap": false, "title": null}},
     "strokeDash": {"field": "s", "type": "nominal", "scale": {"domain": ["solid", "dashed"], "range": [[1, 0], [7, 4]]}, "legend": null}}},
    {"data": {"values": [{}]}, "mark": {"type": "text", "align": "left"}, "encoding": {
     "x": {"datum": 98, "axis": {"orient": "top", "values": [0, 50, 100, 150, 200, 250, 300, 350, 400], "tickCount": 20, "labels": false, "title": null}},
     "y": {"datum": 6285, "axis": {"orient": "right", "values": [6000, 6400, 6800, 7200, 7600], "tickCount": 20, "labels": false, "title": null}},
     "text": {"value": "population 4"}}}
   ]}
  ]}
 ]
}
]
}
